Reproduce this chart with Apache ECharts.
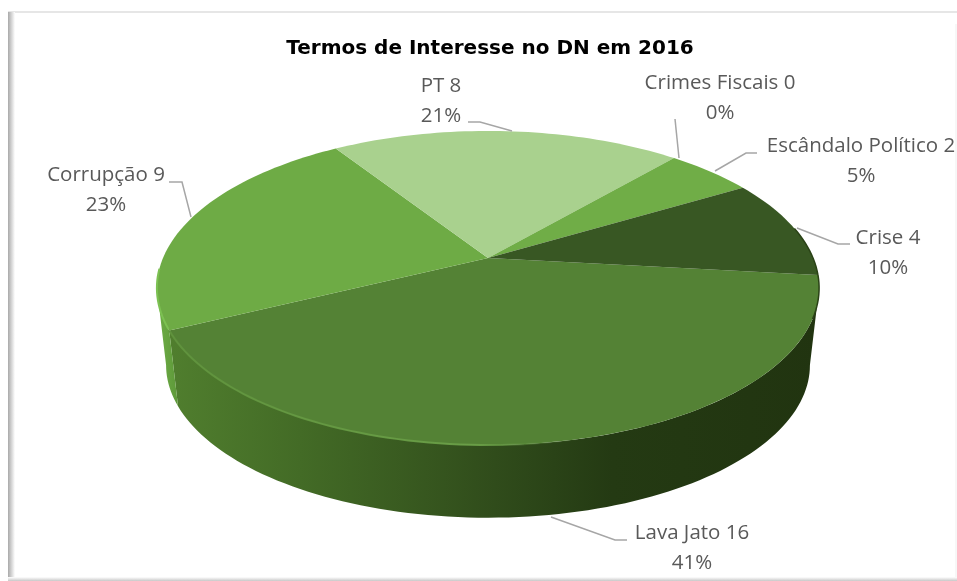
<!DOCTYPE html>
<html><head><meta charset="utf-8">
<style>html,body{margin:0;padding:0;background:#fff}#c{width:957px;height:581px}</style>
<script src="https://cdn.jsdelivr.net/npm/echarts@6/dist/echarts.min.js"></script>
</head><body><div id="c"></div>
<script>
const categories = ['Lava Jato','Corrupção','PT','Crimes Fiscais','Escândalo Político','Crise'];
const values = [16,9,8,0,2,4];
const chartTitle = 'Termos de Interesse no DN em 2016';
const faceColors = ['#548235','#6EAB45','#A9D18E','#70AD47','#70AD47','#385723'];

// label layout: centre of the text and leader-line vertices
const labelCentre = [[692,548],[106,190],[441,101],[720,98],[861,161],[888,253]];
const leaders = [
  [[551,517],[615,540],[627,540]],
  [[169,182],[182,182],[191,217]],
  [[468,122],[480,122],[512,131]],
  [[675,119],[679,158]],
  [[715,171],[746,153],[757,153]],
  [[797,228],[838,244],[850,244]]
];

// perspective model of the disc
const START = 6.3, CX = 488;
const TOP = {y0:258, H:151.3, R:325};
const BOT = {y0:336, H:147, R:316};
const K = 0.191;
const SIL_R = 11, SIL_L = 169; // silhouette angles of the cylinder
function proj(deg, m){
  const t = deg*Math.PI/180, x = Math.cos(t), v = -Math.sin(t), d = 1+K*v;
  return [CX + m.R*x/d, m.y0 - m.H*v/d];
}
function arc(a0,a1,m){
  const n = Math.max(2,Math.ceil(Math.abs(a1-a0)/1.5)), p = [];
  for(let i=0;i<=n;i++) p.push(proj(a0+(a1-a0)*i/n,m));
  return p;
}
const total = values.reduce((a,b)=>a+b,0);
const spans = []; let acc = START;
values.forEach(v=>{ const s = v/total*360; spans.push([acc,acc+s]); acc += s; });

const wallLava = {type:'linear',x:170,y:0,x2:820,y2:0,global:true,colorStops:[
  {offset:0,color:'#507E2E'},{offset:.2,color:'#436B26'},{offset:.5,color:'#304C1B'},
  {offset:.68,color:'#243A13'},{offset:1,color:'#213410'}]};
const wallCorr = {type:'linear',x:157,y:0,x2:180,y2:0,global:true,colorStops:[
  {offset:0,color:'#6EAE46'},{offset:1,color:'#5C9638'}]};

function renderWall(params){
  const i = params.dataIndex, [a0,a1] = spans[i];
  if (a0>=SIL_L || a1<=a0) return {type:'group',children:[]};
  const lo = Math.max(a0,SIL_R), hi = Math.min(a1,SIL_L);
  const pts = arc(lo,hi,TOP).concat(arc(hi,lo,BOT));
  return {type:'polygon',shape:{points:pts},
    style:{fill: i===1?wallCorr:wallLava}};
}
function renderFace(params){
  const i = params.dataIndex, [a0,a1] = spans[i];
  const ch = [];
  if (a1>a0) {
    ch.push({type:'polygon',shape:{points:[[CX,TOP.y0]].concat(arc(a0,a1,TOP))},
      style:{fill:faceColors[i]}});
  }
  if (i===0){
    ch.push({type:'polyline',shape:{points:arc(a1,70,TOP)},
      style:{fill:null,lineWidth:2,opacity:.95,stroke:{type:'linear',x:170,y:0,x2:580,y2:0,global:true,colorStops:[
        {offset:0,color:'#5F923C'},{offset:.75,color:'#6A9F47'},{offset:1,color:'rgba(84,130,53,0)'}]}}});
    ch.push({type:'polyline',shape:{points:arc(a0,22,TOP)},
      style:{fill:null,lineWidth:1.5,stroke:'#2A4216'}});
  }
  if (i===1){
    ch.push({type:'polyline',shape:{points:arc(a0+0.5,176,TOP)},
      style:{fill:null,lineWidth:2,stroke:'#7CC152'}});
  }
  if (i===5){
    ch.push({type:'polyline',shape:{points:arc(a1-18,a1,TOP)},
      style:{fill:null,lineWidth:1.5,stroke:'#2A4216'}});
  }
  ch.push({type:'polyline',shape:{points:leaders[i]},
    style:{fill:null,stroke:'#A6A6A6',lineWidth:1.5}});
  ch.push({type:'text',x:labelCentre[i][0],y:labelCentre[i][1],
    style:{text:categories[i]+' '+values[i]+'\n'+Math.round(values[i]/total*100)+'%',
      font:'20.5px "Open Sans"',fill:'#595959',align:'center',verticalAlign:'middle',lineHeight:29.5}});
  return {type:'group',children:ch};
}
const data = categories.map((n,i)=>({name:n,value:values[i]}));
const frameShadow = (x,y,x2,y2,c)=>({type:'linear',x,y,x2,y2,colorStops:[{offset:0,color:c},{offset:1,color:'#ffffff'}]});
const chart = echarts.init(document.getElementById('c'),null,{renderer:'canvas'});
chart.setOption({
  animation:false,
  backgroundColor:'#ffffff',
  title:{text:chartTitle,left:485,top:34,textAlign:'center',
    textStyle:{fontFamily:'"DejaVu Sans"',fontWeight:'bold',fontSize:20,color:'#000000'}},
  graphic:[
    {type:'rect',shape:{x:8,y:11,width:949,height:2},style:{fill:'#E6E6E6'}},
    {type:'rect',shape:{x:8,y:12,width:7,height:569},style:{fill:frameShadow(0,0,1,0,'#A9A9A9')}},
    {type:'rect',shape:{x:8,y:577,width:949,height:4},style:{fill:frameShadow(0,1,0,0,'#C8C8C8')}},
    {type:'rect',shape:{x:955.5,y:24,width:1,height:553},style:{fill:'#F0F0F0'}}
  ],
  series:[
    {type:'custom',name:'walls',coordinateSystem:'none',renderItem:renderWall,data,silent:true,z:2},
    {type:'custom',name:'faces',coordinateSystem:'none',renderItem:renderFace,data,silent:true,z:3}
  ]
});
</script></body></html>
